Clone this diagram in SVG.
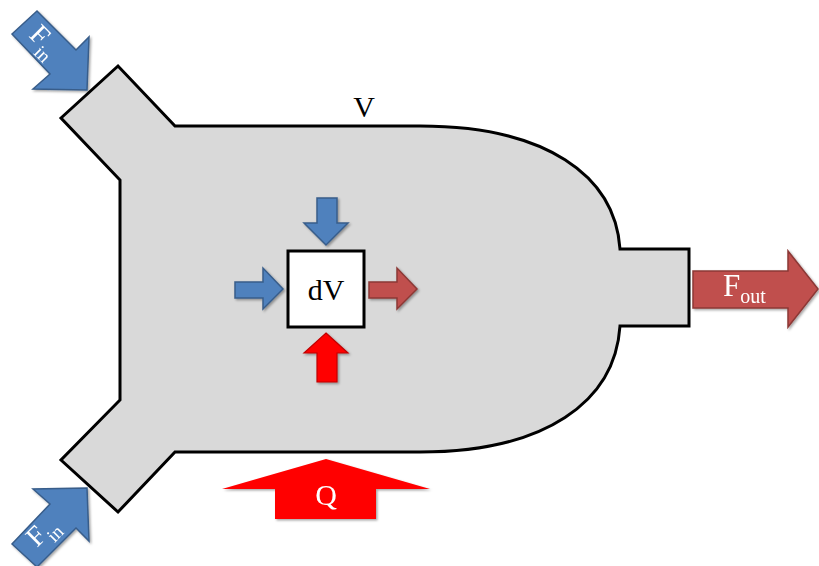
<svg xmlns="http://www.w3.org/2000/svg" width="819" height="566" viewBox="0 0 819 566">
<defs>
<filter id="sh" x="-20%" y="-20%" width="140%" height="140%">
<feDropShadow dx="1.5" dy="1.5" stdDeviation="1.2" flood-color="#000" flood-opacity="0.35"/>
</filter>
</defs>
<style>
.lbl{font-family:"Liberation Serif","Times New Roman",serif;}
.w{fill:#ffffff;}
.blue{fill:#4f81bd;stroke:#385d8a;stroke-width:1.5;stroke-linejoin:miter;}
.dred{fill:#c0504d;stroke:#8c3836;stroke-width:1.5;}
.red{fill:#ff0000;stroke:#c00000;stroke-width:1.2;}
</style>
<rect width="819" height="566" fill="#ffffff"/>
<g id="volume">
<path d="M61,118 L118,66 L175,126 L420,126 C545,126 615,175 620,249 L689,249 L689,326 L620,326 C615,402 545,452 420,452 L175,452 L118,512 L61,460 L120,400 L120,180 Z" fill="#d9d9d9" stroke="#000" stroke-width="3" stroke-linejoin="miter"/>
<text class="lbl" x="364" y="117" font-size="30" text-anchor="middle" fill="#000">V</text>
</g>
<g id="fin-top" filter="url(#sh)">
<polygon class="blue" points="12,34 37,11 76,50 89,37 87,90 33,89 50,74"/>
<text class="lbl w" transform="translate(28,36) rotate(45)" font-size="28">F<tspan font-size="19" dy="9">in</tspan></text>
</g>
<g id="fin-bottom" filter="url(#sh)">
<polygon class="blue" points="12,544 37,567 76,528 89,541 87,488 33,489 50,504"/>
<text class="lbl w" transform="translate(37,548) rotate(-45)" font-size="28">F<tspan font-size="19" dy="9">in</tspan></text>
</g>
<g id="fout" filter="url(#sh)">
<polygon class="dred" points="693,271 788,271 788,251 818,289 788,327 788,308 693,308"/>
<text class="lbl w" x="723" y="296" font-size="31">F<tspan font-size="20" dy="7">out</tspan></text>
</g>
<g id="q" filter="url(#sh)">
<polygon points="326,459 430,489 376,489 376,519 275,519 275,489 222,489" fill="#ff0000"/>
<text class="lbl w" x="326" y="505" font-size="30" text-anchor="middle">Q</text>
</g>
<g id="dV">
<rect x="288" y="251" width="76" height="76" fill="#ffffff" stroke="#000" stroke-width="3"/>
<text class="lbl" x="326" y="300" font-size="30" text-anchor="middle" fill="#000">dV</text>
</g>
<g id="arrow-top" filter="url(#sh)">
<polygon class="blue" points="317,198 337,198 337,223 348,223 326,245 304,223 317,223"/>
</g>
<g id="arrow-left" filter="url(#sh)">
<polygon class="blue" points="235,282 263,282 263,268 283,289 263,309 263,298 235,298"/>
</g>
<g id="arrow-right" filter="url(#sh)">
<polygon class="dred" points="369,282 397,282 397,268 417,289 397,309 397,298 369,298"/>
</g>
<g id="arrow-bottom" filter="url(#sh)">
<polygon class="red" points="326,333 348,353 337,353 337,382 317,382 317,353 304,353"/>
</g>
</svg>
